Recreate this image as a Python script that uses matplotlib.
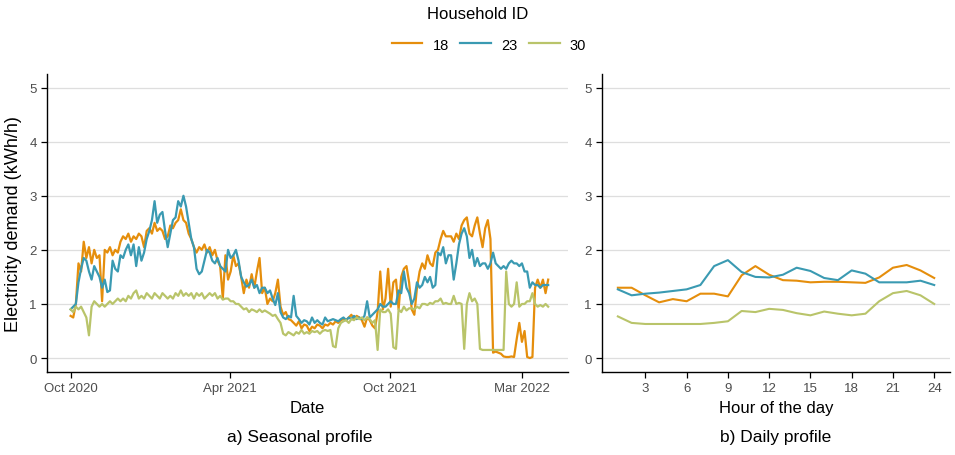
import numpy as np
import pandas as pd
import matplotlib
matplotlib.use('Agg')
import matplotlib.pyplot as plt

plt.rcParams['font.family'] = ['Liberation Sans', 'DejaVu Sans']

households = ['18', '23', '30']
colors = ['#E58E0C', '#3A9AB2', '#B9C46A']

# seasonal profile: one reading every 3 days, Oct 2020 - Mar 2022
dates = pd.date_range('2020-10-01', '2022-03-31', freq='3D')

seasonal_18 = [
    0.78, 0.75, 1.0, 1.75, 1.6, 2.15, 1.85, 2.05, 1.75, 2.0,
    1.85, 1.9, 1.05, 2.0, 1.95, 2.05, 1.9, 2.0, 1.95, 2.15,
    2.25, 2.2, 2.3, 2.15, 2.25, 2.2, 2.3, 2.25, 2.05, 2.35,
    2.4, 2.3, 2.5, 2.35, 2.4, 2.35, 2.2, 2.25, 2.45, 2.4,
    2.5, 2.55, 2.75, 2.55, 2.5, 2.3, 2.2, 2.05, 1.95, 2.05,
    2.0, 2.1, 1.95, 2.05, 1.9, 2.0, 1.8, 1.7, 1.1, 1.9,
    1.45, 1.6, 1.9, 1.7, 1.75, 1.5, 1.2, 1.45, 1.3, 1.55,
    1.3, 1.6, 1.85, 1.2, 1.3, 1.0, 1.1, 1.05, 1.2, 1.45,
    0.95, 0.8, 0.85, 0.72, 0.7, 0.65, 0.6, 0.68, 0.55, 0.62,
    0.6, 0.5, 0.58, 0.55, 0.62, 0.6, 0.55, 0.62, 0.6, 0.65,
    0.62, 0.68, 0.65, 0.7, 0.72, 0.7, 0.75, 0.8, 0.72, 0.78,
    0.75, 0.7, 0.58, 0.75, 0.7, 0.6, 0.55, 0.85, 1.6, 0.9,
    1.1, 1.65, 0.95, 1.4, 1.45, 0.9, 1.5, 1.65, 1.7, 1.4,
    0.9, 0.8, 1.3, 1.6, 1.75, 1.65, 1.9, 1.75, 1.7, 1.95,
    2.0, 2.2, 2.35, 2.25, 2.25, 2.25, 2.15, 2.3, 2.2, 2.45,
    2.55, 2.6, 2.3, 2.25, 2.45, 2.6, 2.3, 2.05, 2.4, 2.55,
    2.2, 0.1, 0.12, 0.1, 0.08, 0.03, 0.02, 0.02, 0.03, 0.02,
    0.35, 0.65, 0.3, 0.5, 0.02, 0.0, 0.02, 1.3, 1.45, 1.3,
    1.45, 1.2, 1.45]

seasonal_23 = [
    0.9, 0.95, 1.0, 1.4, 1.65, 1.85, 1.8, 1.6, 1.45, 1.7,
    1.6, 1.5, 1.3, 1.45, 1.22, 1.25, 1.8, 1.65, 1.6, 1.9,
    1.85, 2.0, 2.1, 1.9, 2.1, 1.7, 2.05, 1.8, 1.95, 2.2,
    2.35, 2.55, 2.9, 2.5, 2.65, 2.7, 2.35, 2.05, 2.3, 2.55,
    2.6, 2.9, 2.8, 3.0, 2.8, 2.5, 2.2, 2.05, 1.65, 1.55,
    1.6, 1.8, 2.0, 1.95, 1.8, 1.75, 1.85, 1.7, 1.65, 1.6,
    2.0, 1.85, 1.9, 2.0, 1.8, 1.5, 1.4, 1.32, 1.35, 1.45,
    1.3, 1.35, 1.2, 1.3, 1.3, 1.2, 1.25, 1.1, 0.98, 1.2,
    0.85, 0.75, 0.72, 0.78, 0.75, 1.15, 0.78, 0.72, 0.65, 0.7,
    0.68, 0.62, 0.75, 0.65, 0.7, 0.65, 0.62, 0.75, 0.68, 0.7,
    0.72, 0.7, 0.68, 0.72, 0.75, 0.7, 0.75, 0.72, 0.78, 0.72,
    0.75, 0.72, 0.78, 1.05, 0.75, 0.8, 0.85, 0.9, 1.0, 0.95,
    0.95, 1.0, 1.05, 1.0, 1.0, 1.25, 1.2, 1.6, 1.3, 1.2,
    1.0, 1.1, 1.4, 1.3, 1.35, 1.5, 1.4, 1.5, 1.3, 1.35,
    1.95, 1.9, 2.05, 1.75, 1.9, 1.9, 1.45, 1.75, 2.1, 2.3,
    2.4, 2.25, 1.85, 2.0, 1.7, 1.85, 1.7, 1.75, 1.75, 1.65,
    1.75, 1.95, 1.75, 1.7, 1.65, 1.7, 1.65, 1.75, 1.8, 1.75,
    1.75, 1.7, 1.75, 1.6, 1.6, 1.3, 1.4, 1.35, 1.35, 1.3,
    1.35, 1.35, 1.35]

seasonal_30 = [
    0.9, 0.85, 0.95, 0.9, 0.95, 0.85, 0.75, 0.42, 0.95, 1.05,
    1.0, 0.95, 1.0, 0.95, 1.0, 1.05, 1.0, 1.05, 1.1, 1.05,
    1.1, 1.05, 1.15, 1.1, 1.2, 1.25, 1.1, 1.15, 1.1, 1.2,
    1.15, 1.1, 1.2, 1.15, 1.1, 1.2, 1.15, 1.1, 1.15, 1.1,
    1.2, 1.15, 1.25, 1.15, 1.2, 1.15, 1.2, 1.1, 1.2, 1.15,
    1.2, 1.1, 1.15, 1.2, 1.15, 1.2, 1.1, 1.15, 1.08, 1.1,
    1.1, 1.05, 1.05, 1.0, 1.0, 0.95, 0.9, 0.92, 0.85, 0.9,
    0.88, 0.85, 0.9, 0.85, 0.88, 0.85, 0.82, 0.78, 0.8, 0.72,
    0.65, 0.45, 0.42, 0.48, 0.45, 0.42, 0.48, 0.45, 0.52, 0.45,
    0.48, 0.45, 0.5, 0.48, 0.5, 0.45, 0.5, 0.52, 0.5, 0.52,
    0.22, 0.2, 0.55, 0.65, 0.68, 0.7, 0.65, 0.72, 0.7, 0.75,
    0.72, 0.75, 0.7, 0.75, 0.72, 0.65, 0.7, 0.15, 0.9, 0.85,
    0.85, 0.9, 0.82, 0.2, 0.17, 0.9, 0.85, 0.95, 0.88, 0.92,
    0.92, 0.9, 0.95, 0.92, 1.0, 1.0, 0.98, 1.02, 1.0, 1.05,
    1.05, 1.1, 1.0, 1.02, 1.0, 1.0, 1.15, 1.0, 1.02, 1.0,
    0.17, 1.0, 1.2, 1.05, 1.1, 1.0, 0.17, 0.15, 0.15, 0.15,
    0.15, 0.15, 0.15, 0.15, 0.15, 0.15, 1.6, 1.0, 0.95, 1.0,
    1.4, 0.95, 1.0, 1.0, 1.05, 1.05, 1.2, 1.0, 0.95, 0.98,
    0.95, 1.0, 0.95]

# daily profile: mean demand per hour of the day
hours = list(range(1, 25))
daily_18 = [1.30, 1.30, 1.16, 1.03, 1.09, 1.05, 1.19, 1.19, 1.14, 1.53, 1.70, 1.54,
            1.44, 1.43, 1.40, 1.41, 1.41, 1.40, 1.39, 1.49, 1.67, 1.72, 1.62, 1.48]
daily_23 = [1.27, 1.16, 1.19, 1.21, 1.24, 1.27, 1.35, 1.70, 1.81, 1.59, 1.50, 1.49,
            1.54, 1.67, 1.61, 1.48, 1.44, 1.62, 1.56, 1.40, 1.40, 1.40, 1.43, 1.35]
daily_30 = [0.77, 0.65, 0.63, 0.63, 0.63, 0.63, 0.63, 0.65, 0.68, 0.87, 0.85, 0.91,
            0.89, 0.83, 0.79, 0.86, 0.82, 0.79, 0.82, 1.05, 1.20, 1.24, 1.16, 1.00]

date_ticks = pd.to_datetime(['2020-10-01', '2021-04-01', '2021-10-01', '2022-03-01'])
date_labels = ['Oct 2020', 'Apr 2021', 'Oct 2021', 'Mar 2022']


def style_axis(ax):
    ax.set_ylim(-0.25, 5.25)
    ax.set_yticks([0, 1, 2, 3, 4, 5])
    ax.grid(axis='y', color='#DEDEDE', linewidth=0.9)
    ax.grid(axis='x', visible=False)
    ax.set_axisbelow(True)
    for side in ['top', 'right']:
        ax.spines[side].set_visible(False)
    for side in ['left', 'bottom']:
        ax.spines[side].set_color('black')
        ax.spines[side].set_linewidth(1.0)
    ax.tick_params(axis='both', colors='black', labelcolor='#4D4D4D',
                   labelsize=9.5, length=4, width=0.9)


fig = plt.figure(figsize=(9.55, 4.56), dpi=100)
ax1 = fig.add_axes([0.0492, 0.1829, 0.5456, 0.6526])
ax2 = fig.add_axes([0.6304, 0.1829, 0.3644, 0.6526])

seasonal = [seasonal_18, seasonal_23, seasonal_30]
daily = [daily_18, daily_23, daily_30]

for hh, col, s, d in zip(households, colors, seasonal, daily):
    ax1.plot(dates, s, color=col, linewidth=1.6, label=hh)
    ax2.plot(hours, d, color=col, linewidth=1.5)

start = pd.Timestamp('2020-10-01')
ax1.set_xlim(start - pd.Timedelta(days=27), start + pd.Timedelta(days=568.7))
ax1.set_xticks(date_ticks)
ax1.set_xticklabels(date_labels)
style_axis(ax1)
ax1.set_xlabel('Date', fontsize=12, labelpad=4)
ax1.set_ylabel('Electricity demand (kWh/h)', fontsize=13, labelpad=5)

ax2.set_xlim(1 - 1.15, 24 + 1.15)
ax2.set_xticks([3, 6, 9, 12, 15, 18, 21, 24])
style_axis(ax2)
ax2.set_xlabel('Hour of the day', fontsize=12, labelpad=4)

fig.text(0.314, 0.04, 'a) Seasonal profile', ha='center', va='center', fontsize=12.5)
fig.text(0.8126, 0.04, 'b) Daily profile', ha='center', va='center', fontsize=12.5)

fig.text(0.5, 0.969, 'Household ID', ha='center', va='center', fontsize=12)
fig.legend(loc='center', bbox_to_anchor=(0.512, 0.9), ncol=3, frameon=False,
           fontsize=10.5, handlelength=2.1, columnspacing=0.8, handletextpad=0.7)

fig.savefig('out.png', dpi=100)
